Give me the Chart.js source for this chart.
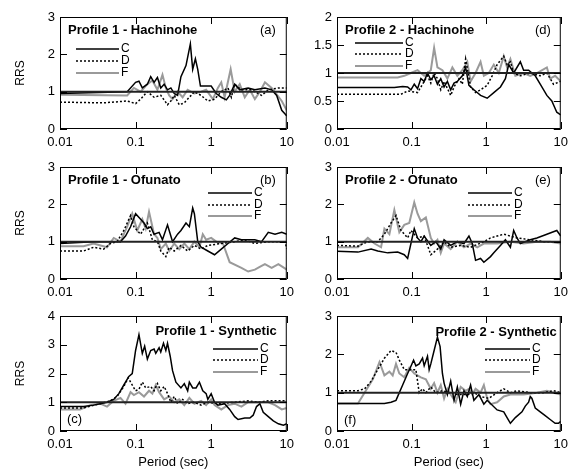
<!DOCTYPE html>
<html>
<head>
<meta charset="utf-8">
<script src="https://cdn.jsdelivr.net/npm/chart.js@4.4.1/dist/chart.umd.min.js"></script>
<style>
  body { margin: 0; background: #fff; }
  #wrap { position: relative; width: 574px; height: 473px; }
  canvas { position: absolute; }
</style>
</head>
<body>
<div id="wrap">
  <canvas id="pa" width="300" height="149" style="left:0;top:2px"></canvas>
  <canvas id="pd" width="274" height="149" style="left:300px;top:2px"></canvas>
  <canvas id="pb" width="300" height="149" style="left:0;top:152px"></canvas>
  <canvas id="pe" width="274" height="149" style="left:300px;top:152px"></canvas>
  <canvas id="pc" width="300" height="172" style="left:0;top:301px"></canvas>
  <canvas id="pf" width="274" height="172" style="left:300px;top:301px"></canvas>
</div>
<script>
// period axis ticks and reference line RRS = 1
const periodTicks = [0.01, 0.1, 1, 10]
const refPer = [0.01, 10]
const refRrs = [1, 1]

const ticks3 = [0, 1, 2, 3]
const ticks2 = [0, 0.5, 1, 1.5, 2]
const ticks4 = [0, 1, 2, 3, 4]

// (a) Profile 1 - Hachinohe
const perA_C = [0.01,0.0774,0.1,0.1108,0.1227,0.1431,0.1585,0.1756,0.1945,0.2154,0.2387,0.2644,0.2929,0.3245,0.3594,0.3981,0.4642,0.5303,0.5696,0.6182,0.6641,0.7207,0.9028,1.0,1.166,1.36,1.585,1.756,2.047,2.387,3.083,3.783,5.142,6.31,7.356,8.577,9.501,10]
const rrsA_C = [0.95,1.0,1.25,1.28,1.1,1.2,1.4,1.25,1.38,1.1,1.2,1.05,1.1,0.95,0.9,1.4,1.7,2.28,1.6,1.88,1.6,1.15,1.15,1.15,0.95,0.85,0.78,0.9,1.2,1.05,1.1,1.05,1.1,1.05,0.9,0.5,0.4,0.35]
const perA_D = [0.01,0.0378,0.0774,0.1,0.1166,0.1431,0.1756,0.2154,0.2644,0.2929,0.3245,0.3783,0.441,0.5142,0.5995,0.7356,0.9028,1.108,1.36,1.668,1.848,2.047,2.512,3.415,4.642,5.696,7.743,10]
const rrsA_D = [0.72,0.70,0.75,0.68,0.8,1.0,0.85,0.9,0.65,0.75,0.9,0.65,0.7,0.85,1.0,0.9,0.75,0.8,1.0,1.1,0.85,1.2,1.05,1.05,0.9,1.05,1.1,1.1]
const perA_F = [0.01,0.0774,0.095,0.1166,0.1431,0.1668,0.1945,0.2268,0.2512,0.2783,0.3083,0.3594,0.419,0.4885,0.5995,0.7356,0.8577,1.052,1.227,1.36,1.506,1.81,2.047,2.387,2.783,3.245,3.783,4.41,5.142,6.31,8.577,10]
const rrsA_F = [0.92,0.9,1.1,1.0,1.2,1.3,1.05,1.45,1.1,0.9,0.8,1.0,0.85,1.05,0.95,1.0,1.05,0.8,1.1,1.25,0.85,1.6,1.0,1.2,0.85,1.05,0.8,1.0,1.25,1.1,0.75,0.5]

// (d) Profile 2 - Hachinohe
const perD_C = [0.01,0.0587,0.0759,0.0885,0.098,0.1086,0.1202,0.1332,0.1475,0.1634,0.181,0.2005,0.2221,0.2461,0.2726,0.302,0.3345,0.3706,0.4105,0.4786,0.5303,0.5874,0.6846,0.8403,1.031,1.265,1.553,1.81,2.005,2.338,2.87,3.178,3.706,4.548,5.303,6.508,7.586,8.846,10]
const rrsD_C = [0.74,0.74,0.76,0.75,0.7,0.8,0.72,0.9,0.85,1.0,0.88,0.95,0.8,0.9,0.75,0.85,0.7,0.82,0.85,0.95,1.1,0.78,0.7,0.6,0.55,0.65,0.75,0.9,1.15,1.0,1.2,1.05,1.05,0.95,0.8,0.6,0.5,0.3,0.25]
const perD_D = [0.01,0.0721,0.0885,0.1202,0.1332,0.1634,0.181,0.2005,0.2221,0.2461,0.2726,0.3345,0.3706,0.4321,0.4786,0.5303,0.6182,0.7207,0.8403,1.031,1.202,1.402,1.72,1.905,2.111,2.338,2.87,3.9,5.303,6.508,7.98,10]
const rrsD_D = [0.62,0.62,0.68,0.65,0.75,0.95,0.82,1.0,0.9,0.7,0.85,0.6,0.75,0.9,0.8,1.25,0.75,0.65,0.7,0.78,0.95,1.15,1.3,1.15,1.2,1.0,0.95,1.0,0.95,1.0,0.8,0.85]
const perD_F = [0.01,0.0651,0.0798,0.098,0.1202,0.1475,0.181,0.2005,0.2221,0.259,0.302,0.3522,0.4105,0.4786,0.558,0.6182,0.7207,0.8403,0.9309,1.085,1.265,1.475,1.72,1.905,2.111,2.461,3.178,3.9,4.786,6.508,7.207,8.403,10]
const rrsD_F = [0.92,0.92,0.95,1.0,1.05,0.95,1.05,1.45,1.1,1.05,0.9,1.1,0.95,1.05,1.2,0.85,1.0,1.2,0.95,1.0,1.15,1.0,1.3,1.1,1.25,0.95,1.0,0.95,1.0,1.1,0.9,0.95,0.85]

// (b) Profile 1 - Ofunato
const perB_C = [0.01,0.0278,0.0464,0.0631,0.0736,0.0858,0.1,0.1166,0.1292,0.1431,0.1585,0.1756,0.2047,0.2268,0.2644,0.2783,0.3083,0.3594,0.3981,0.4642,0.5142,0.5696,0.5995,0.6641,0.7356,0.9028,1.108,1.36,1.668,2.047,2.512,3.783,4.642,5.696,6.99,8.577,10]
const rrsB_C = [0.95,1.0,1.0,1.0,1.15,1.4,1.75,1.6,1.5,1.35,1.4,1.2,1.25,1.05,1.45,1.3,1.0,1.2,1.3,1.5,1.4,1.9,1.75,1.0,0.85,0.75,0.65,0.8,0.95,1.1,1.05,1.05,1.0,1.25,1.2,1.25,1.2]
const perB_D = [0.01,0.0205,0.0278,0.0378,0.0464,0.057,0.0699,0.0858,0.095,0.1166,0.1431,0.1668,0.1945,0.2154,0.2512,0.2783,0.3245,0.3981,0.4885,0.5995,0.7356,0.9028,1.36,2.047,2.783,3.783,5.696,9.501,10]
const rrsB_D = [0.75,0.75,0.85,0.8,0.95,1.0,1.3,1.7,1.4,1.2,1.5,1.05,1.0,0.75,0.6,0.85,0.75,0.9,0.75,0.9,0.8,0.9,0.95,1.0,1.05,0.95,1.0,1.0,0.8]
const perB_F = [0.01,0.0205,0.0278,0.0419,0.0514,0.0631,0.0774,0.0903,0.1052,0.1227,0.136,0.1506,0.1756,0.1945,0.2154,0.2512,0.2783,0.3245,0.3783,0.441,0.5142,0.5995,0.699,0.7743,0.8577,1.0,1.166,1.431,1.756,2.512,3.083,3.783,4.642,5.142,6.31,7.743,10]
const rrsB_F = [0.88,0.88,0.95,0.85,1.1,1.0,1.4,1.75,1.3,1.6,1.35,1.8,1.2,1.1,0.8,0.95,0.75,0.95,0.8,0.95,0.8,1.0,0.85,1.2,1.05,1.1,1.0,0.95,0.45,0.3,0.2,0.25,0.35,0.4,0.3,0.4,0.25]

// (e) Profile 2 - Ofunato
const perE_C = [0.01,0.0191,0.0287,0.0352,0.0479,0.0651,0.0798,0.0885,0.098,0.1086,0.1202,0.1332,0.1475,0.181,0.2111,0.2461,0.2726,0.3345,0.4105,0.5039,0.5874,0.6508,0.7207,0.8403,0.9309,1.143,1.265,1.553,1.81,2.111,2.338,2.59,2.87,3.9,4.786,6.508,8.846,10]
const rrsE_C = [0.74,0.72,0.8,0.75,0.7,0.72,0.65,0.55,0.95,1.35,1.1,1.0,1.15,0.9,1.0,0.8,1.05,0.9,1.0,0.95,1.15,0.95,0.5,0.55,0.45,0.6,0.7,0.9,1.05,0.85,1.3,1.1,0.95,1.05,1.1,1.2,1.3,1.15]
const perE_D = [0.01,0.0191,0.0259,0.0352,0.0432,0.053,0.0618,0.0721,0.0885,0.098,0.1202,0.1475,0.181,0.2221,0.2726,0.3345,0.4548,0.6182,0.9309,1.143,1.402,1.72,2.59,3.9,5.874,10]
const rrsE_D = [0.9,0.88,1.0,1.0,1.2,1.5,1.7,1.3,1.1,1.3,1.1,1.15,0.65,0.8,1.0,0.85,0.9,0.85,1.0,1.1,1.15,1.2,1.1,1.05,1.0,1.0]
const perE_F = [0.01,0.0191,0.0259,0.0318,0.039,0.0432,0.0504,0.0587,0.0685,0.0798,0.0931,0.1086,0.1202,0.1332,0.1553,0.181,0.2005,0.2221,0.2461,0.2726,0.3345,0.4105,0.5039,0.6182,0.7586,0.9309,1.402,2.111,3.178,4.786,7.207,10]
const rrsE_F = [0.85,0.85,1.1,0.95,0.85,1.35,1.2,1.85,1.25,1.45,1.5,2.05,1.75,1.55,1.65,1.1,0.95,1.05,0.7,0.95,0.8,1.0,0.85,0.95,0.85,0.95,0.95,1.0,0.95,1.0,1.0,0.95]

// (c) Profile 1 - Synthetic
const perC_C = [0.01,0.0205,0.0278,0.0341,0.0419,0.0514,0.06,0.0699,0.0815,0.0903,0.1,0.1108,0.1227,0.1318,0.1431,0.1585,0.1756,0.1848,0.2047,0.2154,0.2338,0.2512,0.2644,0.287,0.3083,0.3415,0.3981,0.441,0.4885,0.5142,0.5696,0.631,0.699,0.7743,0.8577,0.9028,1.0,1.108,1.227,1.506,1.756,2.047,2.268,2.783,3.245,3.594,3.981,4.41,4.885,5.696,6.641,7.743,9.028,10]
const rrsC_C = [0.85,0.85,0.9,0.95,1.0,1.1,1.3,1.6,1.9,2.0,2.8,3.35,2.7,2.95,2.5,2.8,2.85,2.7,2.9,2.75,3.05,2.8,3.05,2.6,2.1,1.7,1.5,1.65,1.4,1.7,1.5,1.5,1.7,1.4,1.3,1.1,1.3,1.0,0.9,0.95,0.75,0.5,0.4,0.45,0.45,0.55,0.85,0.95,0.65,0.5,0.35,0.25,0.2,0.25]
const perC_D = [0.01,0.0205,0.0341,0.0464,0.057,0.0699,0.0798,0.0903,0.1,0.1108,0.1227,0.136,0.1585,0.1756,0.1945,0.2154,0.2387,0.2644,0.2929,0.3245,0.3594,0.419,0.4885,0.5995,0.7356,0.9028,1.227,2.047,3.083,4.19,5.696,10]
const rrsC_D = [0.8,0.8,0.95,1.05,1.2,1.55,1.85,1.6,1.4,1.45,1.7,1.5,1.55,1.4,1.65,1.4,1.55,1.3,1.0,1.2,0.95,1.1,0.95,1.0,0.9,1.0,0.95,1.0,1.05,1.0,1.05,1.05]
const perC_F = [0.01,0.0185,0.0251,0.0341,0.0419,0.0514,0.0631,0.0736,0.0858,0.095,0.1108,0.1292,0.1506,0.1668,0.1848,0.2047,0.2387,0.2783,0.3245,0.3783,0.441,0.5142,0.5995,0.7356,0.8577,1.0,1.108,1.36,1.668,2.047,2.512,3.083,4.642,5.696,6.99,8.577,10]
const rrsC_F = [0.75,0.75,0.9,0.95,0.85,1.05,1.15,0.95,1.35,1.25,1.35,1.2,1.4,1.3,1.6,1.35,1.1,1.2,1.0,1.1,0.9,1.15,0.95,1.05,0.9,1.1,0.9,0.75,0.9,0.95,0.85,1.0,1.0,1.0,0.9,0.75,0.8]

// (f) Profile 2 - Synthetic
const perF_C = [0.01,0.0191,0.0432,0.053,0.0618,0.0685,0.0759,0.0885,0.096,0.1063,0.1142,0.1265,0.1402,0.1475,0.1634,0.172,0.181,0.2005,0.2221,0.2411,0.259,0.2726,0.302,0.3345,0.3706,0.4105,0.4548,0.5039,0.558,0.6182,0.6846,0.7986,0.9309,1.031,1.402,1.72,1.905,2.111,2.461,3.02,3.345,3.706,3.9,4.105,4.548,5.303,6.182,7.207,8.403,9.309,10]
const rrsF_C = [0.72,0.72,0.72,0.75,0.8,1.0,1.2,1.5,1.65,1.85,1.7,1.75,1.9,1.7,1.95,1.6,1.75,2.1,2.45,2.2,1.5,1.25,0.95,1.3,0.8,1.15,0.7,1.05,0.9,1.2,0.8,0.95,0.7,0.8,0.55,0.5,0.35,0.2,0.35,0.5,0.65,0.75,0.9,0.85,0.6,0.5,0.4,0.3,0.2,0.2,0.25]
const perF_D = [0.01,0.0191,0.0234,0.0287,0.0352,0.0432,0.053,0.0618,0.0685,0.0798,0.098,0.1142,0.1202,0.1265,0.1402,0.1553,0.181,0.2111,0.259,0.3178,0.4105,0.558,0.6846,0.8403,1.085,1.402,1.72,2.111,2.59,3.9,5.874,7.98,10]
const rrsF_D = [1.05,1.05,1.1,1.3,1.6,1.9,2.1,2.05,1.85,1.6,1.6,1.6,1.3,1.0,1.1,1.0,1.15,1.0,1.05,1.0,0.95,0.95,1.0,0.9,0.85,1.0,1.1,1.0,1.05,1.0,1.0,1.05,1.0]
const perF_F = [0.01,0.0191,0.0234,0.0302,0.0371,0.0432,0.0504,0.0558,0.0618,0.0685,0.0798,0.0931,0.1086,0.1332,0.1553,0.181,0.2005,0.2221,0.2461,0.2726,0.302,0.3345,0.39,0.4548,0.5303,0.5874,0.6508,0.7207,0.8403,0.9309,1.031,1.143,1.402,1.72,2.111,3.178,4.786,6.508,7.98,10]
const rrsF_F = [0.72,0.72,1.0,1.35,1.8,1.45,1.55,1.45,1.75,1.5,1.4,1.65,1.5,1.4,1.35,1.1,1.25,1.0,1.2,0.85,1.1,0.95,0.75,1.15,1.05,1.1,0.95,1.1,1.0,1.2,0.85,0.7,0.75,0.9,0.95,0.95,1.0,1.05,1.0,0.95]

const FONT = '"Liberation Sans", Arial, Helvetica, sans-serif'
Chart.defaults.font.family = FONT
Chart.defaults.font.size = 13
Chart.defaults.color = '#000'

// frame, inward ticks, panel title, tag, legend, axis titles
const panelDeco = {
    id: 'panelDeco',
    afterDatasetsDraw(chart, args, o) {
        const { ctx, chartArea: a, scales: { x, y } } = chart
        ctx.save()
        ctx.strokeStyle = '#000'
        ctx.lineWidth = 1
        ctx.beginPath()
        for (const t of x.ticks) {
            const px = Math.round(x.getPixelForValue(t.value)) + 0.5
            ctx.moveTo(px, a.bottom); ctx.lineTo(px, a.bottom - 7)
            ctx.moveTo(px, a.top); ctx.lineTo(px, a.top + 7)
        }
        for (const t of y.ticks) {
            const py = Math.round(y.getPixelForValue(t.value)) + 0.5
            ctx.moveTo(a.left, py); ctx.lineTo(a.left + 7, py)
            ctx.moveTo(a.right, py); ctx.lineTo(a.right - 7, py)
        }
        ctx.stroke()
        ctx.strokeRect(a.left + 0.5, a.top + 0.5, a.width - 1, a.height - 1)

        ctx.fillStyle = '#000'
        ctx.textBaseline = 'middle'
        ctx.font = 'bold 13px ' + FONT
        ctx.textAlign = o.titleAlign
        ctx.fillText(o.title, o.titleAlign === 'left' ? a.left + o.titleDx : a.right - o.titleDx, a.top + o.titleDy)

        ctx.font = '13px ' + FONT
        ctx.textAlign = o.tagAlign
        ctx.fillText(o.tag, o.tagAlign === 'left' ? a.left + o.tagDx : a.right - o.tagDx, a.top + o.tagDy)

        ctx.font = '12px ' + FONT
        ctx.textAlign = 'left'
        chart.data.datasets.slice(1).forEach((ds, i) => {
            const ly = a.top + o.legDy[i]
            ctx.strokeStyle = ds.borderColor
            ctx.lineWidth = ds.borderWidth
            ctx.setLineDash(ds.borderDash || [])
            ctx.beginPath()
            ctx.moveTo(a.left + o.legX0, ly)
            ctx.lineTo(a.left + o.legX1, ly)
            ctx.stroke()
            ctx.fillText(ds.label, a.left + o.legX1 + 2, ly)
        })
        ctx.setLineDash([])

        if (o.yTitle) {
            ctx.save()
            ctx.translate(a.left - 39, (a.top + a.bottom) / 2)
            ctx.rotate(-Math.PI / 2)
            ctx.textAlign = 'center'
            ctx.font = '12px ' + FONT
            ctx.fillText('RRS', 0, 0)
            ctx.restore()
        }
        if (o.xTitle) {
            ctx.textAlign = 'center'
            ctx.font = '13px ' + FONT
            ctx.fillText('Period (sec)', (a.left + a.right) / 2, a.bottom + 31)
        }
        ctx.restore()
    }
}
Chart.register(panelDeco)

const pts = (per, rrs) => per.map((t, i) => ({ x: t, y: rrs[i] }))

function makePanel(id, p) {
    new Chart(document.getElementById(id), {
        type: 'line',
        data: {
            datasets: [
                { label: 'ref', data: pts(refPer, refRrs), borderColor: '#222', borderWidth: 2 },
                { label: 'C', data: pts(p.per[0], p.rrs[0]), borderColor: '#000', borderWidth: 1.5 },
                { label: 'D', data: pts(p.per[1], p.rrs[1]), borderColor: '#000', borderWidth: 1.5, borderDash: [2, 2] },
                { label: 'F', data: pts(p.per[2], p.rrs[2]), borderColor: '#9a9a9a', borderWidth: 2 },
            ]
        },
        options: {
            responsive: false,
            animation: false,
            layout: { padding: { left: 0, top: 15, right: p.padR, bottom: 0 } },
            elements: { point: { radius: 0 }, line: { tension: 0 } },
            plugins: {
                legend: { display: false },
                tooltip: { enabled: false },
                panelDeco: p.deco,
            },
            scales: {
                x: {
                    type: 'logarithmic',
                    min: 0.01,
                    max: 10,
                    grid: { display: false, drawTicks: false },
                    border: { display: false },
                    afterBuildTicks: s => { s.ticks = periodTicks.map(v => ({ value: v })) },
                    afterFit: s => { s.height = p.xH },
                    ticks: { padding: 6, maxRotation: 0, autoSkip: false, callback: v => String(v) },
                },
                y: {
                    min: p.yTicks[0],
                    max: p.yTicks[p.yTicks.length - 1],
                    grid: { display: false, drawTicks: false },
                    border: { display: false },
                    afterBuildTicks: s => { s.ticks = p.yTicks.map(v => ({ value: v })) },
                    afterFit: s => { s.width = p.yW },
                    ticks: { padding: 5, callback: v => String(v) },
                }
            }
        }
    })
}

const leftCol = { padR: 13, yW: 60 }
const rightCol = { padR: 12, yW: 37 }

makePanel('pa', { ...leftCol, xH: 22, yTicks: ticks3,
    per: [perA_C, perA_D, perA_F], rrs: [rrsA_C, rrsA_D, rrsA_F],
    deco: { title: 'Profile 1 - Hachinohe', titleAlign: 'left', titleDx: 8, titleDy: 13,
        tag: '(a)', tagAlign: 'right', tagDx: 11, tagDy: 13,
        legX0: 16, legX1: 59, legDy: [32, 44, 56], yTitle: true } })

makePanel('pd', { ...rightCol, xH: 22, yTicks: ticks2,
    per: [perD_C, perD_D, perD_F], rrs: [rrsD_C, rrsD_D, rrsD_F],
    deco: { title: 'Profile 2 - Hachinohe', titleAlign: 'left', titleDx: 8, titleDy: 13,
        tag: '(d)', tagAlign: 'right', tagDx: 10, tagDy: 13,
        legX0: 18, legX1: 66, legDy: [26, 37, 49] } })

makePanel('pb', { ...leftCol, xH: 22, yTicks: ticks3,
    per: [perB_C, perB_D, perB_F], rrs: [rrsB_C, rrsB_D, rrsB_F],
    deco: { title: 'Profile 1 - Ofunato', titleAlign: 'left', titleDx: 8, titleDy: 13,
        tag: '(b)', tagAlign: 'right', tagDx: 11, tagDy: 13,
        legX0: 148, legX1: 192, legDy: [26, 38, 49], yTitle: true } })

makePanel('pe', { ...rightCol, xH: 22, yTicks: ticks3,
    per: [perE_C, perE_D, perE_F], rrs: [rrsE_C, rrsE_D, rrsE_F],
    deco: { title: 'Profile 2 - Ofunato', titleAlign: 'left', titleDx: 8, titleDy: 13,
        tag: '(e)', tagAlign: 'right', tagDx: 10, tagDy: 13,
        legX0: 131, legX1: 175, legDy: [26, 38, 49] } })

makePanel('pc', { ...leftCol, xH: 42, yTicks: ticks4,
    per: [perC_C, perC_D, perC_F], rrs: [rrsC_C, rrsC_D, rrsC_F],
    deco: { title: 'Profile 1 - Synthetic', titleAlign: 'right', titleDx: 10, titleDy: 15,
        tag: '(c)', tagAlign: 'left', tagDx: 7, tagDy: 103,
        legX0: 153, legX1: 198, legDy: [33, 44, 56], yTitle: true, xTitle: true } })

makePanel('pf', { ...rightCol, xH: 42, yTicks: ticks3,
    per: [perF_C, perF_D, perF_F], rrs: [rrsF_C, rrsF_D, rrsF_F],
    deco: { title: 'Profile 2 - Synthetic', titleAlign: 'right', titleDx: 4, titleDy: 16,
        tag: '(f)', tagAlign: 'left', tagDx: 7, tagDy: 104,
        legX0: 148, legX1: 193, legDy: [33, 44, 56], xTitle: true } })
</script>
</body>
</html>
